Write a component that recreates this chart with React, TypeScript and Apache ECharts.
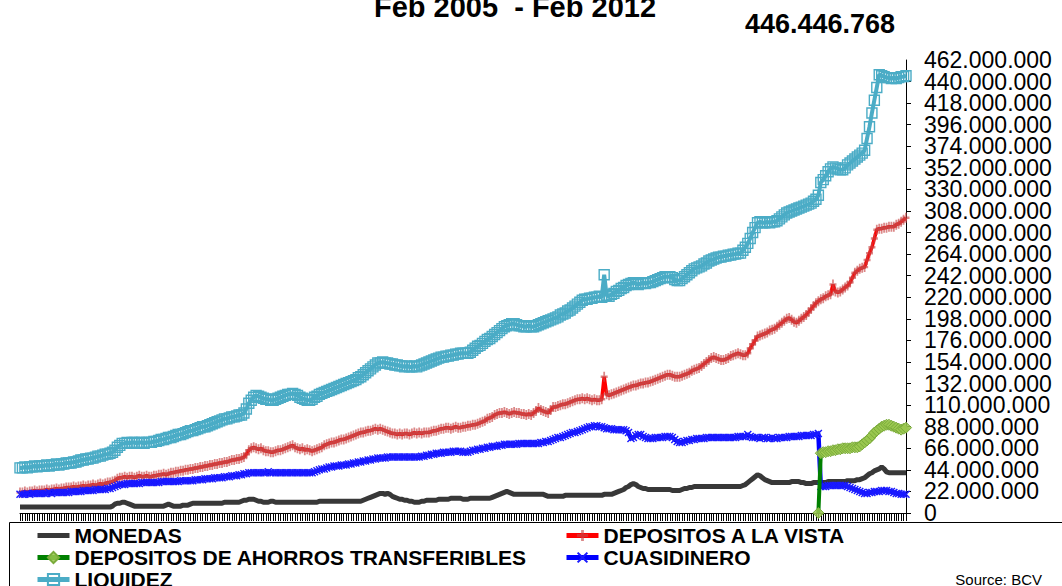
import React, { useEffect, useRef } from "react";
import * as echarts from "echarts";

// Weekly values, millions of Bs. (Feb 2005 - Feb 2012)
const MONEDAS = [
  6,6,6,6,6,6,6,6,6,6,6,6,6,6,6,6,6,6,6,6,6,6,6,6,6,6,6,6,6,6,6,6,6,6,6,6,6,6,
  7,9,10,10,11,11,10,
  9,8,7,7,7,
  7,7,7,7,7,7,7,7,7,7,8,
  9,8,7,
  7,7,7,8,8,8,
  9,10,10,10,10,10,10,10,10,10,10,10,10,10,11,11,11,11,11,11,
  11,12,13,13,14,14,14,13,12,12,11,
  11,11,12,12,11,11,11,11,11,11,
  11,11,11,11,11,11,11,11,11,11,
  11,11,12,12,12,12,12,12,12,12,
  12,12,12,12,12,12,12,12,12,12,
  13,14,15,16,17,18,19,20,20,19,
  20,19,17,16,15,14,14,13,13,12,
  12,11,11,11,12,12,13,13,13,13,
  13,14,14,14,14,14,15,15,15,15,
  15,14,14,14,15,15,15,15,15,15,
  15,15,15,16,17,18,19,20,21,22,
  21,20,19,19,19,19,19,19,19,19,
  19,19,19,19,19,18,17,17,17,17,
  17,17,17,18,18,18,18,18,18,18,
  18,18,18,18,18,18,18,18,18,19,
  19,19,19,20,21,22,23,24,26,27,
  29,30,29,27,26,25,25,24,24,24,
  24,24,24,24,24,24,24,23,23,23,
  23,24,25,25,26,26,27,27,27,27,
  27,27,27,27,27,27,27,27,27,27,
  27,27,27,27,27,27,28,29,31,33,
  35,37,39,38,36,34,33,32,31,31,
  31,31,31,31,31,31,32,32,32,32,
  31,31,30,30,30,31,31,31,31,31,
  31,32,32,32,32,32,32,32,32,33,
  33,33,33,34,34,35,36,38,40,41,
  43,44,45,47,45,42,41,41,41,41,
  41,41,41,41,
];

const VISTA = [
  21,21,22,21,22,22,23,22,23,23,
  23,24,23,24,24,25,24,25,25,26,
  26,26,27,26,27,27,28,27,28,28,29,28,29,30,29,30,31,31,
  32,33,35,36,
  36,37,36,37,37,36,37,38,37,37,38,37,37,
  38,38,39,39,40,39,40,41,41,42,42,43,43,44,
  44,45,45,46,46,47,47,48,48,49,49,50,50,51,
  51,52,52,53,54,54,55,55,56,57,60,
  64,66,67,66,65,66,64,63,63,62,
  62,63,64,64,65,66,67,68,
  69,67,66,65,66,64,65,64,63,64,65,66,67,69,70,
  71,72,72,73,74,75,75,76,77,78,79,
  80,81,82,82,83,84,84,85,86,85,
  86,85,84,83,82,81,81,
  80,81,80,81,81,80,81,82,81,82,81,82,82,
  82,83,84,84,85,86,86,87,87,86,87,88,87,
  87,88,88,89,89,90,90,
  91,92,93,94,96,97,98,100,101,
  102,102,103,102,101,102,103,102,102,101,101,100,101,
  100,102,104,107,105,104,103,102,105,
  108,108,109,110,111,111,112,113,114,115,116,116,
  117,116,117,116,115,116,115,115,116,
  139,
  121,120,121,122,123,124,125,126,127,128,
  129,130,130,131,132,132,133,133,
  134,135,136,137,138,139,140,
  141,141,140,139,139,
  139,140,141,142,143,145,146,147,
  148,150,152,154,156,158,
  159,158,157,156,
  156,157,158,160,161,162,
  163,162,161,161,
  163,168,172,176,
  180,181,182,183,184,186,187,188,
  190,192,194,196,198,
  199,197,195,
  194,196,198,200,
  202,205,208,211,
  214,216,218,219,221,222,223,
  233,
  226,225,226,228,230,232,
  235,240,
  245,247,249,250,
  251,258,265,
  271,280,289,
  290,290,291,291,292,292,
  292,294,295,297,299,301,
];

// Depositos de ahorro transferibles: reported from week index AHORROS_START onwards
const AHORROS_START = 328;
const AHORROS = [
  0,
  61,62,62,63,63,64,64,65,65,66,
  66,66,66,67,67,67,68,70,72,74,
  76,79,82,84,86,88,89,90,90,89,
  88,87,86,85,86,87,
];

const CUASIDINERO = [
  19,19,19,20,19,20,20,20,20,20,
  20,20,21,20,21,21,21,21,21,21,
  21,22,22,22,22,22,23,23,23,23,23,24,24,24,24,24,25,25,
  26,27,28,29,
  29,29,30,30,30,30,30,30,31,31,31,31,31,
  31,31,31,32,32,32,32,32,32,32,32,33,33,33,
  33,33,33,34,34,34,34,35,35,35,35,36,36,36,
  36,37,37,37,38,38,38,39,39,40,40,
  41,41,41,41,41,41,41,41,42,41,
  41,41,41,41,41,41,41,41,41,41,
  41,41,41,41,41,41,41,42,43,44,45,45,46,
  47,47,48,48,48,49,49,49,50,50,51,
  51,52,52,53,53,54,54,55,55,56,56,
  56,56,57,57,57,57,57,57,57,57,57,57,
  57,57,57,57,58,58,59,59,60,60,
  61,61,61,62,62,62,62,63,63,63,
  63,62,62,62,63,64,64,65,65,
  66,66,67,67,68,68,68,69,69,70,70,
  70,70,70,70,71,71,71,71,71,71,71,71,71,72,72,73,73,
  74,75,76,77,77,78,79,80,81,82,
  82,83,84,85,86,87,88,88,
  89,89,88,88,87,
  86,86,86,85,85,85,85,85,84,82,
  76,77,79,80,80,78,77,76,
  76,76,77,77,77,77,78,78,78,77,75,73,
  72,72,73,74,74,75,75,76,
  76,76,76,77,77,77,77,77,77,77,77,77,77,77,77,77,78,78,78,78,
  80,78,77,77,77,76,77,77,76,76,77,76,
  76,77,77,77,77,78,78,78,78,78,79,79,79,79,79,80,80,81,
  27,27,27,28,28,28,28,28,28,28,
  28,27,26,25,24,23,22,21,20,20,
  21,21,22,22,22,23,23,23,22,22,
  21,20,20,19,19,19,
];

const LIQUIDEZ = [
  46,46,47,46,47,47,48,47,48,48,
  48,49,48,49,49,50,49,50,50,51,
  51,51,52,52,53,54,54,55,55,56,
  56,57,58,58,59,60,60,61,
  62,64,67,69,
  71,71,72,71,72,72,71,72,
  72,71,72,72,72,
  73,73,74,75,75,76,77,77,78,79,80,80,81,82,
  83,84,84,85,86,87,88,88,89,90,91,92,93,94,
  95,96,96,97,98,98,99,100,100,102,106,
  112,115,118,120,
  119,118,117,116,116,115,115,116,117,118,119,120,121,121,
  122,121,120,118,117,116,115,115,116,118,119,121,122,123,124,
  125,126,127,128,129,130,131,132,133,134,135,
  136,138,139,141,143,145,147,149,151,153,153,154,153,
  153,152,152,151,151,150,150,149,150,149,149,150,
  149,150,151,152,153,154,155,156,157,158,159,
  159,160,160,161,161,162,162,163,163,163,163,
  164,166,168,170,171,173,175,177,178,
  180,182,184,186,188,190,191,
  192,193,193,192,191,191,190,190,191,190,
  190,191,192,193,194,195,196,
  197,198,199,200,202,203,204,206,
  207,209,211,213,215,
  217,218,218,219,219,220,220,221,220,
  243,
  222,221,223,224,226,227,229,230,232,233,
  234,235,234,233,234,235,234,235,
  235,236,237,238,239,240,241,
  241,241,240,238,237,
  237,239,241,243,245,247,249,250,
  251,252,254,255,257,258,259,
  260,261,261,262,262,263,263,264,264,265,
  265,268,271,
  275,280,286,291,
  296,297,296,296,297,296,297,297,
  298,300,302,304,
  306,307,308,309,310,311,312,313,314,315,
  316,318,320,324,
  337,340,344,348,351,
  353,352,351,350,
  350,352,355,357,359,361,
  363,365,367,
  370,382,
  394,408,
  421,434,
  447,446,445,444,444,443,
  444,443,444,445,445,446,
];

const Y_MAX = 462;
const Y_STEP = 22;
const TITLE = "Feb 2005  - Feb 2012";
const LAST_VALUE_LABEL = "446.446.768";
const SOURCE = "Source: BCV";

const NAMES = {
  m: "MONEDAS",
  v: "DEPOSITOS A LA VISTA",
  a: "DEPOSITOS DE AHORROS TRANSFERIBLES",
  c: "CUASIDINERO",
  l: "LIQUIDEZ",
};

const FONT = "'Liberation Sans', Arial, Helvetica, sans-serif";

const fmt = (v: number) => (v === 0 ? "0" : `${v}.000.000`);

export default function App() {
  const ref = useRef<HTMLDivElement>(null);

  useEffect(() => {
    if (!ref.current) return;
    const chart = echarts.init(ref.current, undefined, { renderer: "svg" });
    const weeks = LIQUIDEZ.map((_, i) => `S${i + 1}`);
    const ahorrosData = (new Array(AHORROS_START).fill(null) as (number | null)[]).concat(AHORROS);

    const legendText = { fontFamily: FONT, fontWeight: "bold" as const, fontSize: 21, color: "#000", lineHeight: 21 };
    const legendBase = {
      orient: "vertical" as const,
      itemWidth: 32,
      itemHeight: 14,
      itemGap: 1,
      padding: 0,
      textStyle: legendText,
      lineStyle: { width: 5 },
    };

    const labelStyle = { margin: 18, fontFamily: FONT, fontSize: 23, color: "#000" };
    const isEvenStep = (v: number) => Math.round(v / Y_STEP) % 2 === 0;

    chart.setOption({
      animation: false,
      backgroundColor: "#fff",
      grid: { left: 20, right: 156, top: 60, bottom: 73, containLabel: false },
      xAxis: {
        type: "category",
        data: weeks,
        boundaryGap: false,
        axisLine: { show: true, lineStyle: { color: "#000", width: 1 } },
        axisTick: { show: true, interval: 0, length: 8, lineStyle: { color: "#000", width: 1 } },
        axisLabel: { show: false },
        splitLine: { show: false },
      },
      yAxis: [
        {
          // main axis: line, ticks and labels 0, 44, 88 ... 440
          type: "value",
          position: "right",
          min: 0,
          max: Y_MAX,
          interval: Y_STEP,
          axisLine: { show: true, lineStyle: { color: "#000", width: 1 } },
          axisTick: { show: true, inside: false, length: 5, lineStyle: { color: "#000" } },
          splitLine: { show: false },
          axisLabel: {
            ...labelStyle,
            showMinLabel: true,
            showMaxLabel: false,
            formatter: (v: number) => (isEvenStep(v) ? fmt(v) : ""),
          },
        },
        {
          // companion axis with the same scale: labels 22, 66 ... 462
          type: "value",
          position: "right",
          min: 0,
          max: Y_MAX,
          interval: Y_STEP,
          axisLine: { show: false },
          axisTick: { show: false },
          splitLine: { show: false },
          axisLabel: {
            ...labelStyle,
            showMinLabel: false,
            showMaxLabel: true,
            formatter: (v: number) => (isEvenStep(v) ? "" : fmt(v)),
          },
        },
      ],
      legend: [
        { ...legendBase, left: 35, top: 525, data: [{ name: NAMES.m, itemStyle: { opacity: 0 } }, NAMES.a] },
        { ...legendBase, left: 35, top: 569, data: [NAMES.l] },
        { ...legendBase, left: 564, top: 525, data: [NAMES.v, NAMES.c] },
      ],
      graphic: [
        {
          type: "rect",
          silent: true,
          shape: { x: 9.5, y: 522.5, width: 1100, height: 100 },
          style: { fill: "none", stroke: "#000", lineWidth: 1 },
        },
        {
          type: "text",
          x: 515,
          y: 7,
          style: { text: TITLE, fontFamily: FONT, fontWeight: "bold", fontSize: 29, fill: "#000", align: "center", verticalAlign: "middle" },
        },
        {
          type: "text",
          x: 820,
          y: 24,
          style: { text: LAST_VALUE_LABEL, fontFamily: FONT, fontWeight: "bold", fontSize: 27, fill: "#000", align: "center", verticalAlign: "middle" },
        },
        {
          type: "text",
          x: 1042,
          y: 579,
          style: { text: SOURCE, fontFamily: FONT, fontSize: 15, fill: "#000", align: "right", verticalAlign: "middle" },
        },
      ],
      series: [
        {
          name: NAMES.m,
          type: "line",
          data: MONEDAS,
          symbol: "none",
          lineStyle: { color: "#383838", width: 5 },
          itemStyle: { color: "#383838" },
          z: 2,
        },
        {
          name: NAMES.v,
          type: "line",
          data: VISTA,
          showAllSymbol: true,
          symbol: "path://M3,0H5V3H8V5H5V8H3V5H0V3H3Z",
          symbolSize: [7, 10],
          lineStyle: { color: "#ff0000", width: 3.5 },
          itemStyle: { color: "rgba(200,70,70,0.65)" },
          z: 3,
        },
        {
          name: NAMES.a,
          type: "line",
          data: ahorrosData,
          showAllSymbol: true,
          symbol: "diamond",
          symbolSize: 11,
          lineStyle: { color: "#008000", width: 4 },
          itemStyle: { color: "rgba(155,200,80,0.85)", borderColor: "#7aab3a", borderWidth: 1 },
          z: 5,
        },
        {
          name: NAMES.c,
          type: "line",
          data: CUASIDINERO,
          showAllSymbol: true,
          symbol: "path://M0,1L1,0L4,3L7,0L8,1L5,4L8,7L7,8L4,5L1,8L0,7L3,4Z",
          symbolSize: 8,
          lineStyle: { color: "#0000ff", width: 4.5 },
          itemStyle: { color: "#1a1aff" },
          z: 4,
        },
        {
          name: NAMES.l,
          type: "line",
          data: LIQUIDEZ,
          showAllSymbol: true,
          symbol: "rect",
          symbolSize: 10,
          lineStyle: { color: "#4bacc6", width: 4 },
          itemStyle: { color: "rgba(255,255,255,0)", borderColor: "#4bacc6", borderWidth: 1.4 },
          z: 6,
        },
      ],
    });

    return () => chart.dispose();
  }, []);

  return <div ref={ref} style={{ position: "fixed", left: 0, top: 0, width: 1062, height: 586 }} />;
}
